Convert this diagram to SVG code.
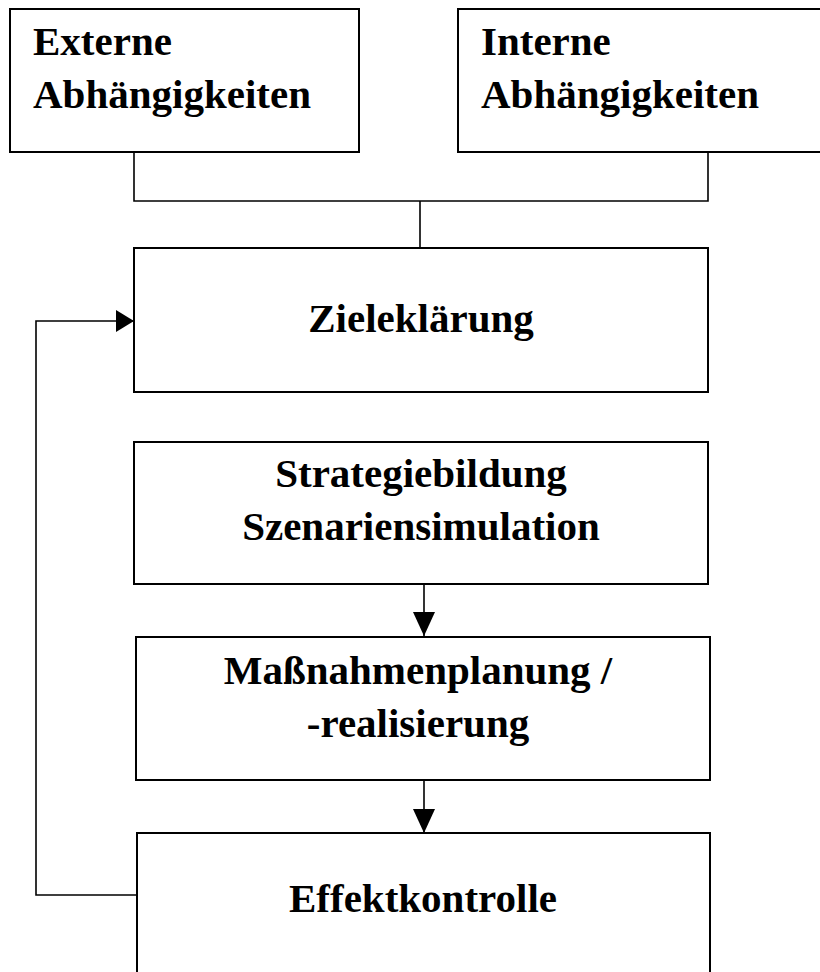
<svg xmlns="http://www.w3.org/2000/svg" width="820" height="972" viewBox="0 0 820 972">
<style>
.box{fill:#fff;stroke:#000;stroke-width:2}
.ln{fill:none;stroke:#000;stroke-width:1.6}
.t{font-family:"Liberation Serif","Times New Roman",serif;font-weight:bold;font-size:41px;fill:#000}
.c{text-anchor:middle}
</style>
<defs>
<marker id="ah" markerWidth="18" markerHeight="22" refX="18" refY="11" orient="auto" markerUnits="userSpaceOnUse">
<path d="M0,0 L18,11 L0,22 Z" fill="#000"/>
</marker>
<marker id="av" markerWidth="24" markerHeight="22" refX="24" refY="11" orient="auto" markerUnits="userSpaceOnUse">
<path d="M0,0 L24,11 L0,22 Z" fill="#000"/>
</marker>
</defs>
<g id="connectors">
<polyline class="ln" points="134,152 134,201 708,201 708,152"/>
<line class="ln" x1="420" y1="201" x2="420" y2="248"/>
<line class="ln" x1="424" y1="584" x2="424" y2="636" marker-end="url(#av)"/>
<line class="ln" x1="424" y1="780" x2="424" y2="833" marker-end="url(#av)"/>
<polyline class="ln" points="137,895 36,895 36,321 134,321" marker-end="url(#ah)"/>
</g>
<g id="externe">
<rect class="box" x="10" y="9" width="349" height="143"/>
<text class="t" x="33" y="55">Externe</text>
<text class="t" x="33" y="108">Abhängigkeiten</text>
</g>
<g id="interne">
<rect class="box" x="458" y="9" width="380" height="143"/>
<text class="t" x="481" y="55">Interne</text>
<text class="t" x="481" y="108">Abhängigkeiten</text>
</g>
<g id="zielklaerung">
<rect class="box" x="134" y="248" width="574" height="144"/>
<text class="t c" x="421" y="332">Zieleklärung</text>
</g>
<g id="strategie">
<rect class="box" x="134" y="442" width="574" height="142"/>
<text class="t c" x="421" y="487">Strategiebildung</text>
<text class="t c" x="421" y="540">Szenariensimulation</text>
</g>
<g id="massnahmen">
<rect class="box" x="136" y="637" width="574" height="143"/>
<text class="t c" x="418" y="684">Maßnahmenplanung /</text>
<text class="t c" x="418" y="737">-realisierung</text>
</g>
<g id="effekt">
<rect class="box" x="137" y="833" width="573" height="160"/>
<text class="t c" x="423" y="912">Effektkontrolle</text>
</g>
</svg>
